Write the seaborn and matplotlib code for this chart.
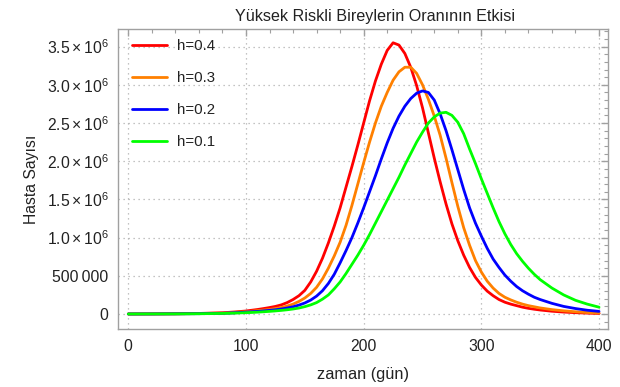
import pandas as pd
import matplotlib
matplotlib.use("Agg")
import matplotlib.pyplot as plt
from matplotlib.ticker import MultipleLocator, FixedLocator
import seaborn as sns

# values (millions of patients)
days = [0, 20, 40, 60, 80, 90, 100, 105, 110, 115, 120, 125, 130, 135, 140, 145, 150,
        155, 160, 165, 170, 175, 180, 185, 190, 195, 200, 205, 210, 215, 220, 225, 230,
        235, 240, 245, 250, 255, 260, 265, 270, 275, 280, 285, 290, 295, 300, 305, 310,
        315, 320, 325, 330, 335, 340, 345, 350, 360, 370, 380, 390, 400]
h04 = [0.001, 0.002, 0.004, 0.008, 0.017, 0.027, 0.04, 0.05, 0.06, 0.072, 0.085, 0.10, 0.12, 0.15, 0.19, 0.24, 0.31,
       0.42, 0.56, 0.73, 0.93, 1.15, 1.39, 1.66, 1.93, 2.21, 2.5, 2.79, 3.05, 3.27, 3.45, 3.55, 3.52,
       3.41, 3.23, 2.99, 2.70, 2.37, 2.04, 1.73, 1.44, 1.18, 0.96, 0.77, 0.61, 0.48, 0.38, 0.30, 0.24,
       0.19, 0.155, 0.13, 0.11, 0.09, 0.075, 0.063, 0.053, 0.037, 0.026, 0.018, 0.012, 0.008]
h03 = [0.001, 0.002, 0.003, 0.006, 0.013, 0.02, 0.03, 0.037, 0.045, 0.052, 0.06, 0.072, 0.085, 0.105, 0.13, 0.165, 0.21,
       0.27, 0.35, 0.46, 0.6, 0.76, 0.94, 1.16, 1.42, 1.7, 1.98, 2.25, 2.5, 2.72, 2.9, 3.06, 3.17,
       3.23, 3.23, 3.15, 3.0, 2.81, 2.59, 2.34, 2.04, 1.72, 1.41, 1.13, 0.9, 0.7, 0.55, 0.43, 0.34,
       0.27, 0.22, 0.185, 0.155, 0.13, 0.11, 0.095, 0.08, 0.058, 0.042, 0.03, 0.02, 0.014]
h02 = [0.001, 0.0015, 0.003, 0.005, 0.01, 0.016, 0.025, 0.03, 0.035, 0.041, 0.048, 0.056, 0.066, 0.079, 0.095, 0.117, 0.145,
       0.183, 0.235, 0.305, 0.4, 0.52, 0.67, 0.83, 1.0, 1.19, 1.39, 1.6, 1.81, 2.03, 2.24, 2.43, 2.59,
       2.72, 2.82, 2.89, 2.92, 2.9, 2.8, 2.62, 2.4, 2.15, 1.89, 1.63, 1.39, 1.19, 1.02, 0.86, 0.72,
       0.61, 0.51, 0.43, 0.36, 0.305, 0.26, 0.22, 0.19, 0.14, 0.1, 0.072, 0.05, 0.035]
h01 = [0.001, 0.0015, 0.002, 0.004, 0.008, 0.012, 0.018, 0.021, 0.025, 0.03, 0.035, 0.041, 0.048, 0.056, 0.066, 0.079, 0.097,
       0.12, 0.15, 0.195, 0.25, 0.33, 0.42, 0.53, 0.65, 0.77, 0.9, 1.04, 1.19, 1.34, 1.49, 1.64, 1.79,
       1.95, 2.1, 2.25, 2.38, 2.5, 2.58, 2.63, 2.64, 2.6, 2.51, 2.36, 2.16, 1.97, 1.77, 1.58, 1.39,
       1.21, 1.05, 0.91, 0.79, 0.69, 0.6, 0.52, 0.45, 0.34, 0.25, 0.18, 0.13, 0.09]

labels = ["h=0.4", "h=0.3", "h=0.2", "h=0.1"]
colors = ["#ff0000", "#ff8000", "#0000ff", "#00ff00"]
y_ticks = [0, 500000, 1.0e6, 1.5e6, 2.0e6, 2.5e6, 3.0e6, 3.5e6]
y_ticklabels = ["0", "500\u2009000"] + [r"$%.1f\times10^{6}$" % (v / 1e6) for v in y_ticks[2:]]

dfs = []
for lab, vals in zip(labels, [h04, h03, h02, h01]):
    dfs.append(pd.DataFrame({"zaman": days, "hasta": [v * 1e6 for v in vals], "h": lab}))
df = pd.concat(dfs)

sns.set_style("white")
plt.rcParams["font.family"] = ["Liberation Sans", "DejaVu Sans"]
plt.rcParams["mathtext.fontset"] = "custom"
plt.rcParams["mathtext.rm"] = "Liberation Sans"
plt.rcParams["mathtext.it"] = "Liberation Sans"
plt.rcParams["mathtext.default"] = "regular"

fig = plt.figure(figsize=(6.2, 3.87), dpi=100)
ax = fig.add_axes([0.1908, 0.149, 0.7898, 0.776])

sns.lineplot(data=df, x="zaman", y="hasta", hue="h", hue_order=labels, palette=colors,
             linewidth=2.0, ax=ax)

ax.set_xlim(-8.5, 407.6)
ax.set_ylim(-0.2e6, 3.73e6)
ax.xaxis.set_major_locator(MultipleLocator(100))
ax.xaxis.set_minor_locator(MultipleLocator(20))
ax.yaxis.set_major_locator(FixedLocator(y_ticks))
ax.yaxis.set_minor_locator(MultipleLocator(100000))
ax.set_yticklabels(y_ticklabels)

ax.grid(True, which="major", color="#b0b0b0", linestyle=(0, (1, 3)), linewidth=0.9)
for s in ax.spines.values():
    s.set_color("#a0a0a0")
    s.set_linewidth(1.0)
ax.tick_params(which="both", direction="in", top=True, right=True, color="#a0a0a0",
               labelsize=11.3, labelcolor="#222222")
ax.tick_params(which="major", length=5, width=1.0, pad=7)
ax.tick_params(which="minor", length=3, width=0.8)

ax.set_xlabel("zaman (gün)", fontsize=11.8, color="#222222", labelpad=9)
ax.set_ylabel("Hasta Sayısı", fontsize=11.3, color="#222222", labelpad=6)
ax.set_title("Yüksek Riskli Bireylerin Oranının Etkisi", fontsize=11.6, color="#222222",
             pad=6, x=0.524)

ax.legend(loc="upper left", bbox_to_anchor=(0.028, 0.967), frameon=False, fontsize=10.8,
          borderpad=0, borderaxespad=0, handlelength=2.3, handletextpad=0.7, labelspacing=1.2,
          labelcolor="#222222")

plt.savefig("out.png", dpi=100)
